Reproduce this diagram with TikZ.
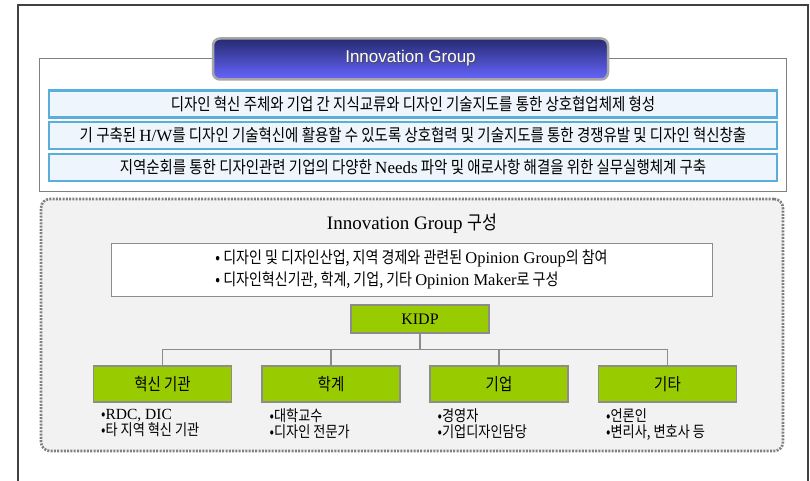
\documentclass[tikz,border=0pt]{standalone}
\usepackage{fontspec}
\setmainfont{Liberation Serif}
\newfontfamily\kr{Noto Sans CJK KR}[FakeStretch=0.85]
\newfontfamily\hd{Liberation Sans}
\usetikzlibrary{positioning}

\definecolor{bannertop}{HTML}{262A70}
\definecolor{bannerbot}{HTML}{6666FF}
\definecolor{rowblue}{HTML}{5AAEDC}
\definecolor{rowfill}{HTML}{EEF5FC}
\definecolor{leafgreen}{HTML}{99CC00}
\newcommand\lat[1]{{\rmfamily #1}}

\begin{document}
\begin{tikzpicture}[x=1pt, y=-1pt, >=stealth,
  panel/.style={draw=black!50, line width=1.2pt, fill=white, minimum width=747pt, minimum height=133pt},
  banner/.style={draw=black!35, line width=2.5pt, rounded corners=7pt, top color=bannertop, bottom color=bannerbot, minimum width=395pt, minimum height=41pt, text=white, font=\hd\fontsize{17}{20}\selectfont},
  goal/.style={draw=rowblue, line width=2.4pt, fill=rowfill, minimum width=728pt, minimum height=27pt, inner sep=0pt, font=\kr\fontsize{17}{20}\selectfont},
  groupbox/.style={draw=black!50, line width=2.6pt, dash pattern=on 2pt off 1.3pt, fill=black!5, rounded corners=9pt, minimum width=742pt, minimum height=252pt},
  leaf/.style={draw=black!45, line width=1.2pt, fill=leafgreen, minimum width=138pt, minimum height=36pt, font=\kr\fontsize{17}{20}\selectfont},
  note/.style={anchor=north west, align=left, inner sep=0pt, font=\kr\fontsize{15.5}{16}\selectfont},
  conn/.style={draw=black!45, line width=1.2pt}]
\useasboundingbox (0,0) rectangle (810,481);
\draw[draw=black!75, line width=1.2pt] (18,5) rectangle (808,500);

% goals of the group
\node[panel, anchor=north west] (panel) at (39,58) {};
\node[banner] (banner) at (410.5,59) {\rlap{\kern0.8pt\raisebox{-0.8pt}{\textcolor{black!70}{Innovation Group}}}Innovation Group};
\node[goal] (goal1) at (413,104) {디자인 혁신 주체와 기업 간 지식교류와 디자인 기술지도를 통한 상호협업체제 형성};
\node[goal] (goal2) at (413,135.5) {기 구축된 \lat{H/W}를 디자인 기술혁신에 활용할 수 있도록 상호협력 및 기술지도를 통한 경쟁유발 및 디자인 혁신창출};
\node[goal] (goal3) at (413,167.5) {지역순회를 통한 디자인관련 기업의 다양한 \lat{Needs} 파악 및 애로사항 해결을 위한 실무실행체계 구축};

% members
\node[groupbox] (group) at (412,325) {};
\node[font=\fontsize{19}{22}\selectfont] (grouptitle) at (412,224) {Innovation Group {\kr 구성}};
\node[draw=black!45, line width=1pt, fill=white, minimum width=601pt, minimum height=53pt, align=left, font=\kr\fontsize{16.5}{22}\selectfont] (opinion) at (411.5,269.5)
  {• 디자인 및 디자인산업, 지역 경제와 관련된 \lat{Opinion Group}의 참여\\ • 디자인혁신기관, 학계, 기업, 기타 \lat{Opinion Maker}로 구성};
\node[leaf, font=\fontsize{16}{18}\selectfont, minimum height=28pt] (kidp) at (420,319) {KIDP};
\node[leaf] (inst) at (162.5,384) {혁신 기관};
\node[leaf] (acad) at (331,384) {학계};
\node[leaf] (corp) at (499,384) {기업};
\node[leaf] (etc) at (667.5,384) {기타};

\node[note] (instnote) at ([xshift=8pt,yshift=-6pt]inst.south west) {•\lat{RDC, DIC}\\•타 지역 혁신 기관};
\node[note] (acadnote) at ([xshift=8pt,yshift=-6pt]acad.south west) {•대학교수\\•디자인 전문가};
\node[note] (corpnote) at ([xshift=8pt,yshift=-6pt]corp.south west) {•경영자\\•기업디자인담당};
\node[note] (etcnote) at ([xshift=8pt,yshift=-6pt]etc.south west) {•언론인\\•변리사, 변호사 등};

\foreach \leafname in {inst,acad,corp,etc}
  \draw[conn] (kidp.south) -- ++(0,16) -| (\leafname.north);
\end{tikzpicture}
\end{document}
